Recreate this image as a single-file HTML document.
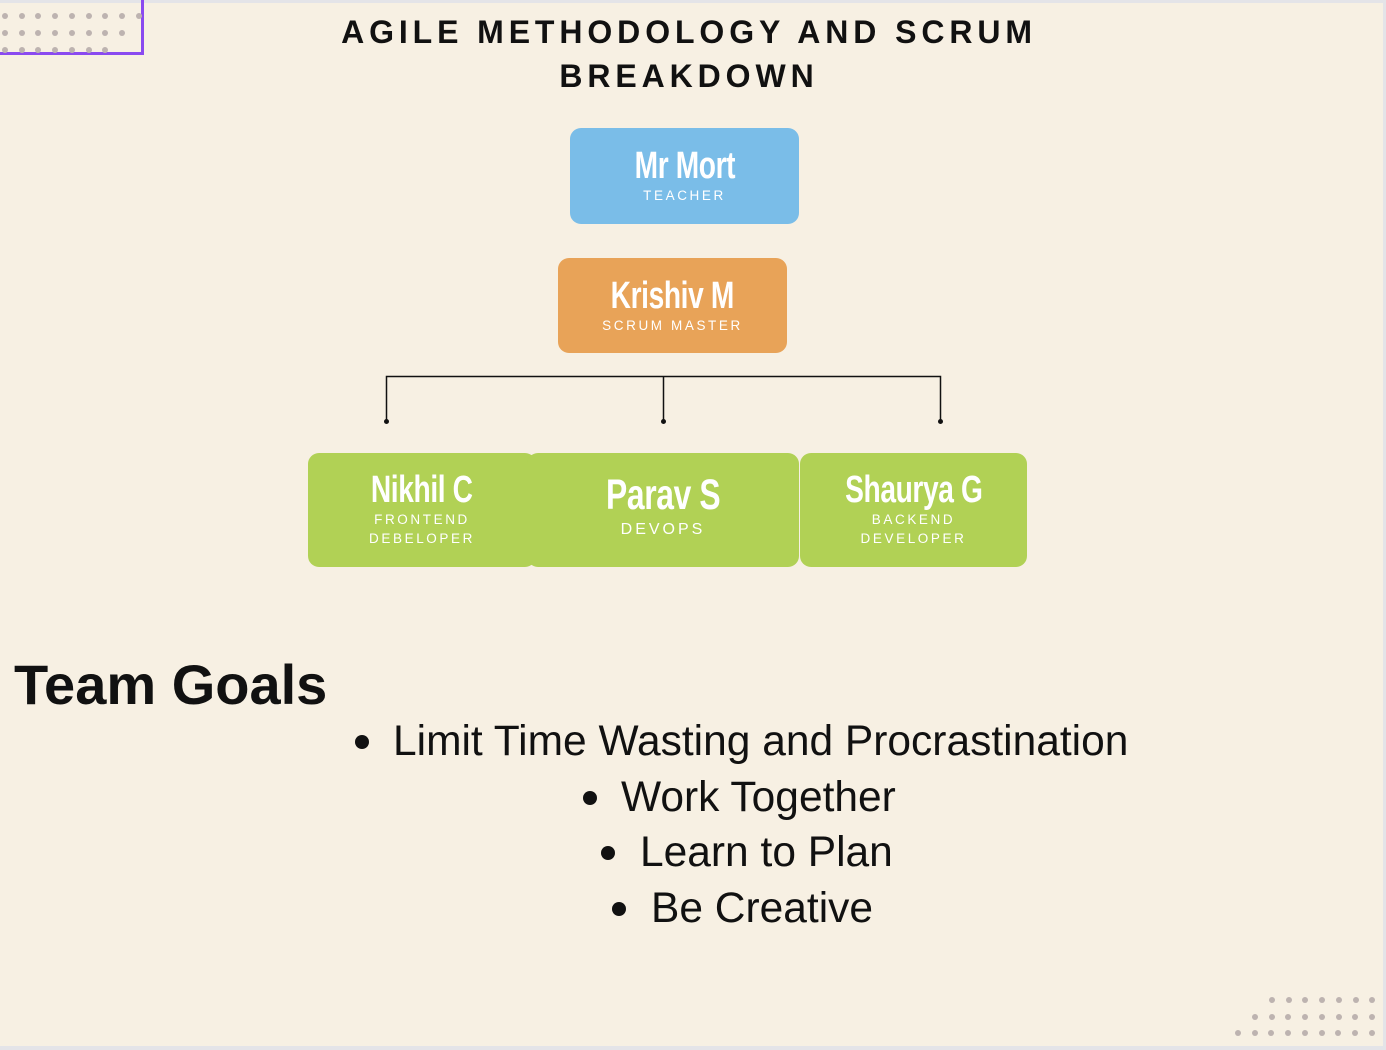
<!DOCTYPE html>
<html><head><meta charset="utf-8"><style>
*{margin:0;padding:0;box-sizing:border-box}
body{width:1386px;height:1050px;background:#f7f0e3;position:relative;overflow:hidden;font-family:"Liberation Sans",sans-serif}
.abs{position:absolute}
.box{position:absolute;border-radius:11px;color:#fff;text-align:center}
.nm{font-family:"Liberation Sans Narrow","Liberation Sans",sans-serif;font-weight:bold;font-size:38px;line-height:40px;display:inline-block;transform:scaleX(.74);letter-spacing:-.5px}
.rl{font-size:13.5px;letter-spacing:2.6px;line-height:19px}
.dot{position:absolute;width:6px;height:6px;border-radius:50%;background:#bdb3b0}
.goal{position:absolute;font-size:42.5px;line-height:48px;color:#111;white-space:nowrap}
.bl{position:absolute;width:14px;height:14px;border-radius:50%;background:#111}
</style></head><body>
<div class="abs" style="left:0;top:0;width:1386px;height:3px;background:#e4e4e8"></div>
<div class="abs" style="right:0;top:0;width:3px;height:1050px;background:#e4e4e8"></div>
<div class="abs" style="left:0;bottom:0;width:1386px;height:4px;background:#e4e4e8"></div>
<div class="abs" style="left:0;top:0;width:144px;height:55px;border-right:3px solid #8a4af0;border-bottom:3px solid #8a4af0"></div>
<div id="dots"></div>
<div class="abs" style="left:0;top:10px;width:1378px;text-align:center;font-size:32px;font-weight:bold;letter-spacing:4.9px;line-height:44px;color:#111">AGILE METHODOLOGY AND SCRUM<br>BREAKDOWN</div>

<div class="box" style="left:570px;top:128px;width:229px;height:96px;background:#7abde8"><div style="padding-top:18px"><span class="nm">Mr Mort</span></div><div class="rl">TEACHER</div></div>
<div class="box" style="left:558px;top:258px;width:229px;height:95px;background:#e8a358"><div style="padding-top:18px"><span class="nm">Krishiv M</span></div><div class="rl">SCRUM MASTER</div></div>

<svg class="abs" style="left:0;top:0" width="1386" height="1050">
<path d="M386.5 421V376.5H940.5V421M663.5 376V421" fill="none" stroke="#111" stroke-width="1.5"/>
<circle cx="386.5" cy="421.5" r="2.5" fill="#111"/><circle cx="663.5" cy="421.5" r="2.5" fill="#111"/><circle cx="940.5" cy="421.5" r="2.5" fill="#111"/>
</svg>

<div class="box" style="left:308px;top:453px;width:228px;height:114px;background:#b1d155"><div style="padding-top:17px"><span class="nm">Nikhil C</span></div><div class="rl">FRONTEND<br>DEBELOPER</div></div>
<div class="box" style="left:527px;top:453px;width:272px;height:114px;background:#b1d155"><div style="padding-top:22px"><span class="nm" style="font-size:43px">Parav S</span></div><div class="rl" style="font-size:16px;letter-spacing:3px;margin-top:5px">DEVOPS</div></div>
<div class="box" style="left:800px;top:453px;width:227px;height:114px;background:#b1d155"><div style="padding-top:17px"><span class="nm">Shaurya G</span></div><div class="rl">BACKEND<br>DEVELOPER</div></div>

<div class="abs" style="left:14px;top:652px;font-size:56px;font-weight:bold;color:#111;line-height:66px">Team Goals</div>
<div class="bl" style="left:355px;top:735px"></div><div class="goal" style="top:718px;left:393px">Limit Time Wasting and Procrastination</div>
<div class="bl" style="left:583px;top:791px"></div><div class="goal" style="top:774px;left:621px">Work Together</div>
<div class="bl" style="left:601px;top:846px"></div><div class="goal" style="top:829px;left:640px">Learn to Plan</div>
<div class="bl" style="left:612px;top:902px"></div><div class="goal" style="top:885px;left:651px">Be Creative</div>
<script>
var d=document.getElementById('dots'),h='';
function row(y,x0,n){for(var i=0;i<n;i++)h+='<div class="dot" style="left:'+(x0+i*16.7-3)+'px;top:'+(y-3)+'px"></div>';}
row(16,5,9);row(33,5,8);row(50,5,7);
row(1000,1272,7);row(1017,1255,8);row(1033,1238,9);
d.innerHTML=h;
</script>
</body></html>
